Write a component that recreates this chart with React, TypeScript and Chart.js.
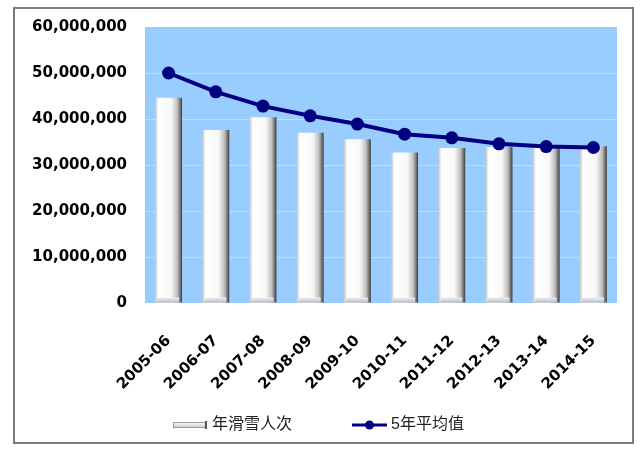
import React, { useEffect, useRef } from "react";
import { Chart, registerables } from "chart.js";

Chart.register(...registerables);

const seasons = [
  "2005-06", "2006-07", "2007-08", "2008-09", "2009-10",
  "2010-11", "2011-12", "2012-13", "2013-14", "2014-15",
];
const skierVisits = [
  44600000, 37600000, 40400000, 37000000, 35600000,
  32700000, 33700000, 33900000, 33700000, 34100000,
];
const fiveYearAverage = [
  50000000, 45900000, 42800000, 40700000, 38900000,
  36700000, 35900000, 34600000, 34000000, 33800000,
];
const yTicks = [0, 10000000, 20000000, 30000000, 40000000, 50000000, 60000000];

const BAR_PCT = 0.57;
const NAVY = "#000080";
const BG = "#99CCFF";

const chrome = {
  id: "chrome",
  beforeDraw(chart: any) {
    const { ctx, chartArea } = chart;
    ctx.save();
    ctx.fillStyle = "#ffffff";
    ctx.fillRect(0, 0, chart.width, chart.height);
    ctx.strokeStyle = "#7a7a7a";
    ctx.lineWidth = 2;
    ctx.strokeRect(14, 8, 619, 435);
    ctx.fillStyle = BG;
    ctx.fillRect(chartArea.left, chartArea.top, chartArea.right - chartArea.left, chartArea.bottom - chartArea.top);
    ctx.restore();
  },
  afterDatasetDraw(chart: any, args: any) {
    if (args.index !== 0) return;
    const { ctx } = chart;
    ctx.save();
    args.meta.data.forEach((bar: any) => {
      const half = bar.width / 2;
      const g = ctx.createLinearGradient(0, bar.base - 5, 0, bar.base);
      g.addColorStop(0, "#f0f0f0");
      g.addColorStop(1, "#bdbdbd");
      ctx.fillStyle = g;
      ctx.fillRect(bar.x - half + 2, bar.base - 5, bar.width - 5, 5);
    });
    ctx.restore();
  },
  afterDraw(chart: any) {
    const { ctx } = chart;
    const y = 425;
    ctx.save();
    // bar legend icon
    const g = ctx.createLinearGradient(0, y - 3, 0, y + 3);
    g.addColorStop(0, "#ffffff");
    g.addColorStop(1, "#c8c8c8");
    ctx.fillStyle = g;
    ctx.fillRect(173, y - 3, 33, 6);
    ctx.strokeStyle = "#9a9a9a";
    ctx.lineWidth = 1;
    ctx.strokeRect(173.5, y - 2.5, 32, 5);
    ctx.fillStyle = "#555";
    ctx.fillRect(205, y - 4, 2, 8);
    // line legend icon
    ctx.strokeStyle = NAVY;
    ctx.lineWidth = 3;
    ctx.beginPath();
    ctx.moveTo(352, y);
    ctx.lineTo(387, y);
    ctx.stroke();
    ctx.fillStyle = NAVY;
    ctx.beginPath();
    ctx.arc(369.5, y, 4.5, 0, Math.PI * 2);
    ctx.fill();
    ctx.fillStyle = "#222";
    ctx.font = '16px "Liberation Sans", "Noto Sans CJK SC", sans-serif';
    ctx.textBaseline = "middle";
    ctx.fillText(chart.data.datasets[0].label, 212, y);
    ctx.fillText(chart.data.datasets[1].label, 391, y);
    ctx.restore();
  },
};

const barFill = (c: any) => {
  const chart = c.chart;
  const area = chart.chartArea;
  if (!area || c.dataIndex === undefined) return "#ffffff";
  const x = chart.scales.x.getPixelForValue(c.dataIndex);
  const half = ((area.right - area.left) / seasons.length) * BAR_PCT / 2;
  const g = chart.ctx.createLinearGradient(x - half, 0, x + half, 0);
  g.addColorStop(0, "#c4c4c4");
  g.addColorStop(0.12, "#ffffff");
  g.addColorStop(0.6, "#f8f8f8");
  g.addColorStop(0.82, "#c0c0c0");
  g.addColorStop(0.92, "#7c7c7c");
  g.addColorStop(1, "#3c3c3c");
  return g;
};

const App: React.FC = () => {
  const canvasRef = useRef<HTMLCanvasElement | null>(null);

  useEffect(() => {
    document.body.style.margin = "0";
    if (!canvasRef.current) return;
    const chart = new Chart(canvasRef.current, {
      type: "bar",
      data: {
        labels: seasons,
        datasets: [
          {
            type: "bar",
            label: "年滑雪人次",
            data: skierVisits,
            backgroundColor: barFill,
            borderWidth: 0,
            barPercentage: BAR_PCT,
            categoryPercentage: 1,
            order: 1,
          },
          {
            type: "line",
            label: "5年平均值",
            data: fiveYearAverage,
            borderColor: NAVY,
            backgroundColor: NAVY,
            borderWidth: 4,
            pointRadius: 6.5,
            pointBackgroundColor: NAVY,
            pointBorderWidth: 0,
            tension: 0,
            order: 0,
          },
        ],
      },
      options: {
        animation: false,
        responsive: false,
        layout: { padding: { left: 32, right: 23, top: 27, bottom: 0 } },
        plugins: { legend: { display: false }, tooltip: { enabled: false } },
        scales: {
          x: {
            grid: { display: false, drawTicks: false },
            border: { display: false },
            ticks: {
              color: "#000",
              font: { family: '"DejaVu Sans", sans-serif', size: 15, weight: "bold" },
              minRotation: 45,
              maxRotation: 45,
              padding: 29,
            },
            afterFit: (s: any) => {
              s.height = 148;
            },
          },
          y: {
            min: 0,
            max: 60000000,
            afterBuildTicks: (s: any) => {
              s.ticks = yTicks.map((v) => ({ value: v }));
            },
            grid: {
              drawTicks: false,
              color: (c: any) =>
                c.tick && (c.tick.value === 0 || c.tick.value === 60000000)
                  ? "rgba(0,0,0,0)"
                  : "rgba(255,255,255,0.35)",
            },
            border: { display: false },
            ticks: {
              color: "#000",
              font: { family: '"DejaVu Sans", sans-serif', size: 15, weight: "bold" },
              padding: 18,
              callback: (v: any) => Number(v).toLocaleString("en-US"),
            },
            afterFit: (s: any) => {
              s.width = 113;
            },
          },
        },
      },
      plugins: [chrome],
    });
    return () => chart.destroy();
  }, []);

  return (
    <div style={{ width: 640, height: 451 }}>
      <canvas ref={canvasRef} width={640} height={451}></canvas>
    </div>
  );
};

export default App;
